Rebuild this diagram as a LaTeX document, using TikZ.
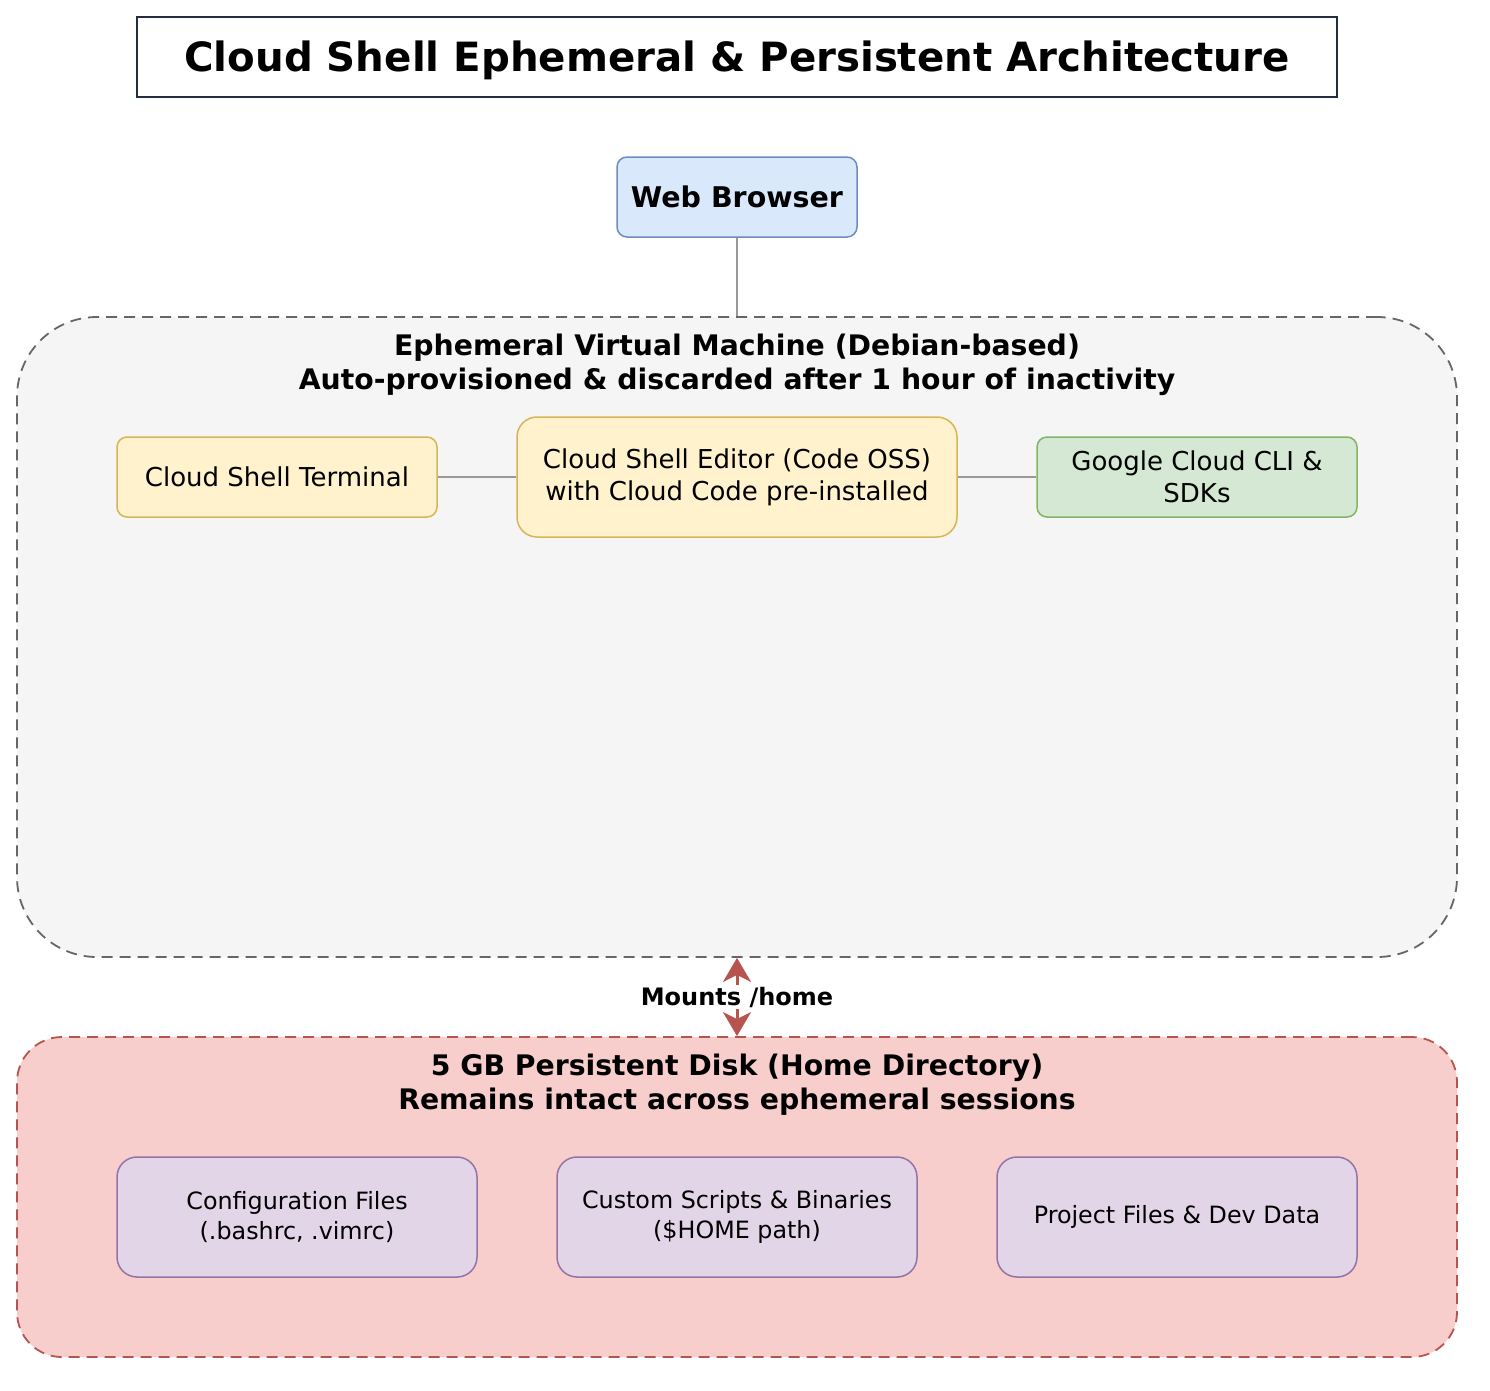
\documentclass[tikz,border=0pt]{standalone}
\usepackage{fontspec}
\setmainfont{DejaVu Sans}
\usetikzlibrary{arrows.meta}

\definecolor{titleline}{HTML}{232F3E}
\definecolor{blueFill}{HTML}{DAE8FC}
\definecolor{blueLine}{HTML}{6C8EBF}
\definecolor{yellowFill}{HTML}{FFF2CC}
\definecolor{yellowLine}{HTML}{D6B656}
\definecolor{greenFill}{HTML}{D5E8D4}
\definecolor{greenLine}{HTML}{82B366}
\definecolor{redFill}{HTML}{F8CECC}
\definecolor{redLine}{HTML}{B85450}
\definecolor{purpleFill}{HTML}{E1D5E7}
\definecolor{purpleLine}{HTML}{9673A6}
\definecolor{grayFill}{HTML}{F5F5F5}
\definecolor{grayLine}{HTML}{666666}
\definecolor{linkLine}{HTML}{999999}

\tikzset{
	box/.style={draw, line width=1.5pt, rounded corners=10pt, align=center, inner sep=0pt},
	browserbox/.style={box, fill=blueFill, draw=blueLine, minimum width=240pt, minimum height=80pt, font=\fontsize{28.5}{34}\selectfont\bfseries},
	toolbox/.style={box, fill=yellowFill, draw=yellowLine, font=\fontsize{26}{32}\selectfont},
	clibox/.style={box, fill=greenFill, draw=greenLine, font=\fontsize{26}{32}\selectfont},
	filebox/.style={box, fill=purpleFill, draw=purpleLine, rounded corners=20pt, minimum width=360pt, minimum height=120pt, font=\fontsize{23.8}{30}\selectfont},
	zone/.style={draw, line width=1.8pt, dash pattern=on 11pt off 7pt, inner sep=0pt, minimum width=1440pt},
	heading/.style={align=center, font=\fontsize{28.3}{34}\selectfont\bfseries},
	link/.style={draw=linkLine, line width=1.5pt},
	mount/.style={draw=redLine, line width=3pt, {Stealth[length=24pt, width=28pt, inset=7pt]}-{Stealth[length=24pt, width=28pt, inset=7pt]}},
}

\begin{document}
\begin{tikzpicture}[x=1pt, y=-1pt]
	\useasboundingbox[fill=white] (0,0) rectangle (1490,1390);

	% title
	\node [draw=titleline, line width=2pt, minimum width=1200pt, minimum height=80pt, text depth=2pt, font=\fontsize{40.3}{48}\selectfont\bfseries] (title) at (737,57) {Cloud Shell Ephemeral \& Persistent Architecture};

	\node [browserbox] (browser) at (737,197) {Web Browser};

	% ephemeral vm
	\node [zone, fill=grayFill, draw=grayLine, rounded corners=80pt, minimum height=640pt] (vm) at (737,637) {};
	\node [heading] (vmtitle) at (737,365) {Ephemeral Virtual Machine (Debian-based)\\Auto-provisioned \& discarded after 1 hour of inactivity};
	\node [toolbox, minimum width=320pt, minimum height=80pt] (terminal) at (277,477) {Cloud Shell Terminal};
	\node [toolbox, rounded corners=20pt, minimum width=440pt, minimum height=120pt] (editor) at (737,477) {Cloud Shell Editor (Code OSS)\\with Cloud Code pre-installed};
	\node [clibox, minimum width=320pt, minimum height=80pt] (cli) at (1197,477) {Google Cloud CLI \&\\SDKs};

	% persistent disk
	\node [zone, fill=redFill, draw=redLine, rounded corners=45pt, minimum height=320pt] (disk) at (737,1197) {};
	\node [heading] (disktitle) at (737,1085) {5 GB Persistent Disk (Home Directory)\\Remains intact across ephemeral sessions};
	\node [filebox] (config) at (297,1217) {Configuration Files\\(.bashrc, .vimrc)};
	\node [filebox] (scripts) at (737,1217) {Custom Scripts \& Binaries\\(\$HOME path)};
	\node [filebox] (project) at (1177,1217) {Project Files \& Dev Data};

	% connectors
	\draw [link] (browser) -- (vm.north);
	\draw [link] (terminal) -- (editor);
	\draw [link] (editor) -- (cli);
	\draw [mount] (vm.south) -- (disk.north) node [midway, fill=white, inner sep=2pt, font=\fontsize{24}{28}\selectfont\bfseries] (mountlabel) {Mounts /home};
\end{tikzpicture}
\end{document}
